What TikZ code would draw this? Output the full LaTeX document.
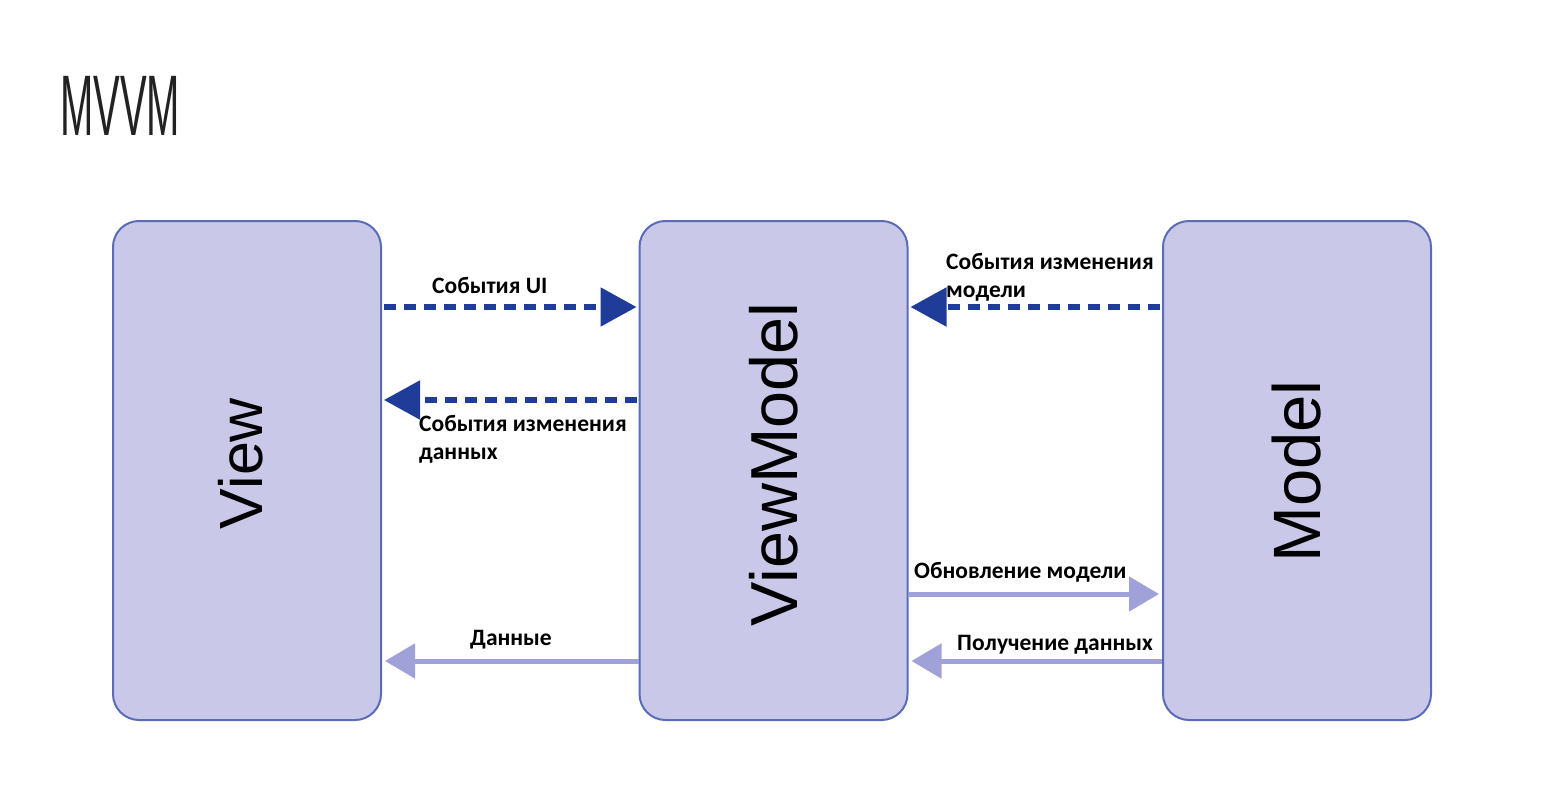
\documentclass[tikz,border=0pt]{standalone}
\usepackage{fontspec}
\setmainfont{Liberation Sans}
\newfontfamily\lblfont{Carlito}
\usetikzlibrary{arrows.meta}
\definecolor{boxfill}{HTML}{C9C8E8}
\definecolor{boxline}{HTML}{5A6CB8}
\definecolor{darkarrow}{HTML}{1F3C98}
\definecolor{lightarrow}{HTML}{A0A1D8}
\definecolor{titlecol}{HTML}{222222}
\tikzset{
  comp/.style={draw=boxline, fill=boxfill, line width=2pt, rounded corners=26pt,
    minimum width=268pt, minimum height=499pt, inner sep=0pt},
  evarrow/.style={draw=darkarrow, line width=5.5pt, dash pattern=on 12pt off 8pt,
    -{Triangle[length=36pt,width=38pt]}},
  dataarrow/.style={draw=lightarrow, line width=5pt,
    -{Triangle[length=30pt,width=34pt]}},
  lbl/.style={font=\lblfont\bfseries\fontsize{23.5}{28}\selectfont, text=black,
    inner sep=0pt, align=left}
}
\begin{document}
\begin{tikzpicture}[x=1pt,y=-1pt]
\useasboundingbox[fill=white] (0,0) rectangle (1542,795);
\node[text=titlecol, anchor=west, inner sep=0pt] (title) at (60,106)
  {\scalebox{0.465}[1]{\fontsize{86}{86}\selectfont MVVM}};
\node[comp] (view) at (247,470.5) {};
\node[comp] (vm) at (773.5,470.5) {};
\node[comp] (model) at (1297,470.5) {};
\node[inner sep=0pt, font=\fontsize{61}{61}\selectfont] (viewtxt) at ([xshift=-6pt,yshift=7pt]view.center) {\rotatebox{90}{View}};
\node[inner sep=0pt, font=\fontsize{66.5}{66.5}\selectfont] (vmtxt) at ([yshift=6pt]vm.center) {\rotatebox{90}{ViewModel}};
\node[inner sep=0pt, font=\fontsize{67}{67}\selectfont] (modeltxt) at ([yshift=-1pt]model.center) {\rotatebox{90}{Model}};
% events
\draw[evarrow] ([xshift=2pt]view.east |- 0,307) -- ([xshift=-2pt]vm.west |- 0,307);
\draw[evarrow] ([xshift=-2pt]vm.west |- 0,400) -- ([xshift=2pt]view.east |- 0,400);
\draw[evarrow] ([xshift=-2pt]model.west |- 0,307) -- ([xshift=2pt]vm.east |- 0,307);
% data
\draw[dataarrow] (vm.east |- 0,594) -- ([xshift=-3pt]model.west |- 0,594);
\draw[dataarrow] (model.west |- 0,661) -- ([xshift=3pt]vm.east |- 0,661);
\draw[dataarrow] (vm.west |- 0,661) -- ([xshift=3pt]view.east |- 0,661);
% labels
\node[lbl, anchor=west] (l1) at (432,285) {События UI};
\node[lbl, anchor=west] (l2) at (419,439) {События изменения\\данных};
\node[lbl, anchor=west] (l3) at (946,277) {События изменения\\модели};
\node[lbl, anchor=west] (l4) at (914,572) {Обновление модели};
\node[lbl, anchor=west] (l5) at (957,645) {Получение данных};
\node[lbl, anchor=west] (l6) at (470,640) {Данные};
\end{tikzpicture}
\end{document}
